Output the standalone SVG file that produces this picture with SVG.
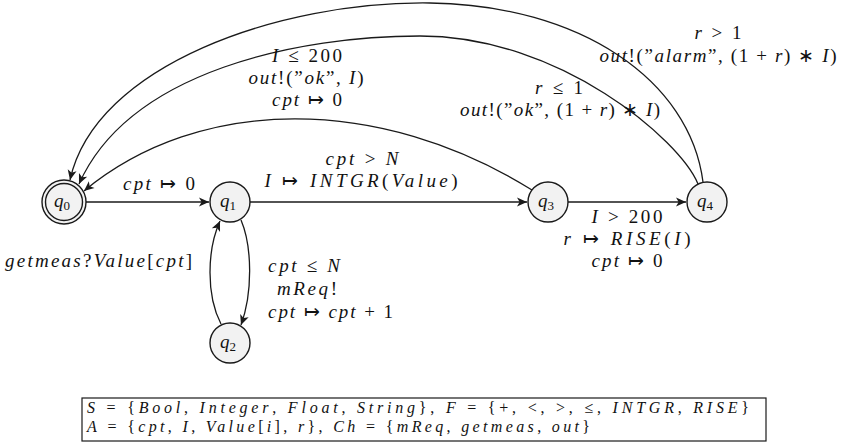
<svg xmlns="http://www.w3.org/2000/svg" width="847" height="447" viewBox="0 0 847 447">
<style>
  .n circle { fill: #f2f2f2; stroke: #1a1a1a; stroke-width: 1.4; }
  .e { fill: none; stroke: #1a1a1a; stroke-width: 1.3; marker-end: url(#ah); }
  text { font-family: "Liberation Serif", "Times New Roman", serif; fill: #111; }
  .l { font-size: 19px; font-style: italic; }
  .b { font-size: 16px; font-style: italic; }
  .u { font-style: normal; }
  .q { font-size: 19px; font-style: italic; }
  .s { font-size: 13px; font-style: normal; }
</style>
<defs>
  <marker id="ah" markerUnits="userSpaceOnUse" viewBox="0 0 10 10" refX="10" refY="5" markerWidth="11" markerHeight="10" orient="auto">
    <path d="M0,0.5 L10,5 L0,9.5 L2.6,5 z" fill="#1a1a1a"/>
  </marker>
</defs>
<rect width="847" height="447" fill="#fff"/>

<g id="connectors">
  <path class="e" d="M86,202 H209"/>
  <path class="e" d="M250,202 H527"/>
  <path class="e" d="M568,202 H686"/>
  <path class="e" d="M241,220 C252,246 253,292 241,325"/>
  <path class="e" d="M221,324 C206,295 207,250 220,221"/>
  <path class="e" d="M532,190 C380,95 200,95 84,191"/>
  <path class="e" d="M698,184 C680,140 560,36 420,36 C300,36 130,70 79,184"/>
  <path class="e" d="M703,182 C690,80 580,5 430,3 C280,1 95,65 70,180"/>
</g>

<g id="labels">
  <text class="l" x="159" y="190" text-anchor="middle" textLength="72">cpt<tspan class="u"> ↦ 0</tspan></text>
  <text class="l" x="362" y="165" text-anchor="middle" textLength="73">cpt<tspan class="u"> &gt; </tspan>N</text>
  <text class="l" x="361" y="187" text-anchor="middle" textLength="193">I<tspan class="u"> ↦ </tspan>INTGR<tspan class="u">(</tspan>Value<tspan class="u">)</tspan></text>
  <text class="l" x="307" y="62" text-anchor="middle" textLength="70">I<tspan class="u"> ≤ 200</tspan></text>
  <text class="l" x="306" y="84" text-anchor="middle" textLength="115">out<tspan class="u">!(”</tspan>ok<tspan class="u">”, </tspan>I<tspan class="u">)</tspan></text>
  <text class="l" x="307" y="106" text-anchor="middle" textLength="70">cpt<tspan class="u"> ↦ 0</tspan></text>
  <text class="l" x="718" y="39" text-anchor="middle" textLength="47">r<tspan class="u"> &gt; 1</tspan></text>
  <text class="l" x="718" y="62" text-anchor="middle" textLength="237">out<tspan class="u">!(”</tspan>alarm<tspan class="u">”, (1 + </tspan>r<tspan class="u">) ∗ </tspan>I<tspan class="u">)</tspan></text>
  <text class="l" x="559" y="94" text-anchor="middle" textLength="48">r<tspan class="u"> ≤ 1</tspan></text>
  <text class="l" x="560" y="116" text-anchor="middle" textLength="200">out<tspan class="u">!(”</tspan>ok<tspan class="u">”, (1 + </tspan>r<tspan class="u">) ∗ </tspan>I<tspan class="u">)</tspan></text>
  <text class="l" x="5" y="267" textLength="187">getmeas<tspan class="u">?</tspan>Value<tspan class="u">[</tspan>cpt<tspan class="u">]</tspan></text>
  <text class="l" x="268" y="272" textLength="72">cpt<tspan class="u"> ≤ </tspan>N</text>
  <text class="l" x="277" y="295" textLength="60">mReq<tspan class="u">!</tspan></text>
  <text class="l" x="268" y="318" textLength="125">cpt<tspan class="u"> ↦ </tspan>cpt<tspan class="u"> + 1</tspan></text>
  <text class="l" x="627" y="223" text-anchor="middle" textLength="71">I<tspan class="u"> &gt; 200</tspan></text>
  <text class="l" x="627" y="245" text-anchor="middle" textLength="127">r<tspan class="u"> ↦ </tspan>RISE<tspan class="u">(</tspan>I<tspan class="u">)</tspan></text>
  <text class="l" x="627" y="267" text-anchor="middle" textLength="71">cpt<tspan class="u"> ↦ 0</tspan></text>
</g>

<g id="q0" class="n">
  <circle cx="64" cy="202" r="22"/>
  <circle cx="64" cy="202" r="18.5"/>
  <text class="q" x="62" y="207" text-anchor="middle">q<tspan class="s" dy="3">0</tspan></text>
</g>
<g id="q1" class="n">
  <circle cx="230" cy="202" r="20"/>
  <text class="q" x="228" y="207" text-anchor="middle">q<tspan class="s" dy="3">1</tspan></text>
</g>
<g id="q2" class="n">
  <circle cx="230" cy="343" r="20"/>
  <text class="q" x="228" y="348" text-anchor="middle">q<tspan class="s" dy="3">2</tspan></text>
</g>
<g id="q3" class="n">
  <circle cx="548" cy="202" r="20"/>
  <text class="q" x="546" y="207" text-anchor="middle">q<tspan class="s" dy="3">3</tspan></text>
</g>
<g id="q4" class="n">
  <circle cx="707" cy="202" r="20"/>
  <text class="q" x="705" y="207" text-anchor="middle">q<tspan class="s" dy="3">4</tspan></text>
</g>

<g id="signature">
  <rect x="82" y="398" width="684" height="43" fill="none" stroke="#1a1a1a" stroke-width="1.2"/>
  <text class="b" x="87" y="413" textLength="662">S<tspan class="u"> = {</tspan>Bool<tspan class="u">, </tspan>Integer<tspan class="u">, </tspan>Float<tspan class="u">, </tspan>String<tspan class="u">}, </tspan>F<tspan class="u"> = {+, &lt;, &gt;, ≤, </tspan>INTGR<tspan class="u">, </tspan>RISE<tspan class="u">}</tspan></text>
  <text class="b" x="87" y="432" textLength="503">A<tspan class="u"> = {</tspan>cpt<tspan class="u">, </tspan>I<tspan class="u">, </tspan>Value<tspan class="u">[</tspan>i<tspan class="u">], </tspan>r<tspan class="u">}, </tspan>Ch<tspan class="u"> = {</tspan>mReq<tspan class="u">, </tspan>getmeas<tspan class="u">, </tspan>out<tspan class="u">}</tspan></text>
</g>
</svg>
